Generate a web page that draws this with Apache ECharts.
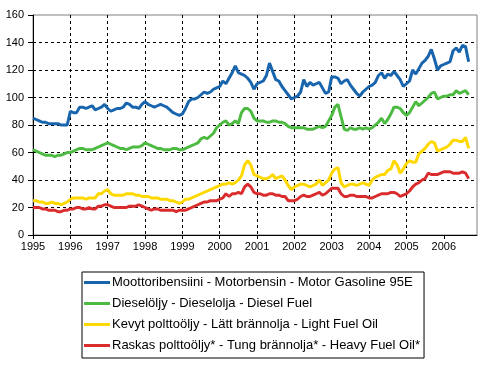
<!DOCTYPE html>
<html><head><meta charset="utf-8">
<script src="https://cdn.jsdelivr.net/npm/echarts@6/dist/echarts.min.js"></script>
<style>html,body{margin:0;padding:0;background:#fff}#c{width:497px;height:366px}</style>
</head><body><div id="c"></div>
<script>
var startYear = 1995;
var yearLabels = [1995,1996,1997,1998,1999,2000,2001,2002,2003,2004,2005,2006];
var names = [
  'Moottoribensiini - Motorbensin - Motor Gasoline 95E',
  'Dieselöljy - Dieselolja - Diesel Fuel',
  'Kevyt polttoöljy - Lätt brännolja - Light Fuel Oil',
  'Raskas polttoöljy* - Tung brännolja* - Heavy Fuel Oil*'
];
var gasoline = [
 85,84,83,82,82,81,81,81,81,80,80,80,
 90,89,89,93,93,92,93,94,91,92,93,95,
 92,90,91,92,92,93,96,95,93,93,92,95,
 97,95,94,93,94,95,94,93,91,89,88,87,
 88,92,97,99,99,100,102,104,103,104,106,107,
 108,112,110,114,118,123,118,117,116,114,111,106,
 110,111,112,116,125,119,113,112,108,105,102,99,
 100,101,104,113,108,111,109,110,111,107,103,104,
 115,115,114,110,112,113,109,106,103,101,104,106,
 108,109,111,116,118,114,117,116,119,116,113,108,
 110,112,120,117,121,125,127,130,135,128,120,123,
 124,125,126,134,136,133,138,137,126
];
var diesel = [
 62,61,60,59,58,58,58,57,58,58,59,60,
 60,61,62,63,63,62,62,62,63,64,65,66,
 67,66,65,64,63,63,62,63,64,64,64,65,
 67,66,65,64,63,63,62,62,62,63,63,62,
 62,63,64,65,66,67,70,71,70,72,74,78,
 80,82,83,80,81,83,81,89,92,92,90,85,
 83,83,83,82,82,83,83,82,82,81,79,78,
 78,78,78,78,77,77,77,78,79,78,79,83,
 87,93,95,86,77,76,78,77,77,78,77,78,
 77,78,80,82,85,81,84,88,93,93,92,89,
 87,89,93,97,94,96,98,100,103,104,99,100,
 101,101,102,102,105,103,104,105,102
];
var lightOil = [
 25,25,24,24,23,23,24,23,23,22,23,24,
 26,27,27,27,27,26,27,27,27,30,30,32,
 33,30,29,29,29,29,30,30,30,29,29,28,
 28,28,27,27,27,26,26,26,25,25,24,23,
 24,26,26,27,28,29,30,31,32,33,34,35,
 36,37,37,38,37,38,40,43,51,54,51,44,
 43,42,41,41,42,44,41,42,43,40,36,33,
 35,36,37,37,36,35,36,37,40,36,38,40,
 45,48,49,38,35,36,37,37,36,37,38,37,
 36,40,42,43,44,44,47,48,54,51,45,48,
 52,54,53,53,59,61,63,66,68,67,61,62,
 63,64,66,69,69,68,68,71,63
];
var heavyOil = [
 20,20,20,19,19,18,18,18,17,17,18,18,
 19,19,20,20,19,19,20,19,19,21,21,22,
 22,21,20,20,20,20,20,21,21,21,22,21,
 20,19,18,19,19,18,18,18,18,18,17,18,
 18,18,19,20,21,22,23,24,24,25,25,25,
 26,27,30,28,30,30,31,30,35,37,35,31,
 30,30,29,29,30,30,29,29,28,28,25,25,
 25,26,28,29,28,28,29,30,31,29,30,32,
 34,34,34,30,28,28,29,29,28,28,28,28,
 27,27,28,29,30,30,30,31,31,30,28,29,
 30,32,35,37,38,40,41,45,44,44,44,45,
 46,46,46,45,45,45,46,45,41
];
var colors = ['#1865AD', '#4DBA42', '#FFD800', '#DA2C2C'];

function toPairs(arr) {
  return arr.map(function (v, i) { return [startYear + i / 12, v]; });
}
var font = "'Liberation Sans', Arial, sans-serif";
var chart = echarts.init(document.getElementById('c'), null, {renderer: 'canvas'});
var seriesData = [gasoline, diesel, lightOil, heavyOil];
chart.setOption({
  animation: false,
  backgroundColor: '#fff',
  textStyle: {fontFamily: font},
  grid: {left: 33, right: 20, top: 15, bottom: 131, show: true, borderColor: '#808080', borderWidth: 1, containLabel: false},
  xAxis: {
    type: 'value', min: 1995, max: 2006.89, interval: 1,
    axisLine: {show: true, lineStyle: {color: '#000', width: 1}},
    axisTick: {show: true, length: 4, inside: false, lineStyle: {color: '#000'}, customValues: yearLabels},
    axisLabel: {color: '#000', fontSize: 11, fontFamily: font, margin: 6, customValues: yearLabels,
      formatter: function (v) { return String(Math.round(v)); }},
    splitLine: {show: true, showMinLine: false, showMaxLine: false, lineStyle: {color: '#000', type: [3, 3], width: 1}}
  },
  yAxis: {
    type: 'value', min: 0, max: 160, interval: 20,
    axisLine: {show: true, lineStyle: {color: '#000', width: 1}},
    axisTick: {show: true, length: 5, lineStyle: {color: '#000'}},
    axisLabel: {color: '#000', fontSize: 11, fontFamily: font, margin: 9},
    splitLine: {show: true, showMaxLine: false, lineStyle: {color: '#000', type: [3, 3], width: 1}}
  },
  legend: {
    orient: 'vertical', left: 82, top: 272,
    padding: [4, 4, 6, 2], itemGap: 8,
    itemWidth: 26, itemHeight: 3, icon: 'rect',
    borderColor: '#000', borderWidth: 1, borderRadius: 0,
    textStyle: {color: '#000', fontSize: 13, fontFamily: font, padding: [0, 0, 0, -3]},
    data: names
  },
  series: seriesData.map(function (d, k) {
    return {
      type: 'line', name: names[k], data: toPairs(d),
      showSymbol: false, symbol: 'none',
      lineStyle: {color: colors[k], width: 3},
      itemStyle: {color: colors[k]},
      z: 10 - k
    };
  })
});
</script></body></html>
